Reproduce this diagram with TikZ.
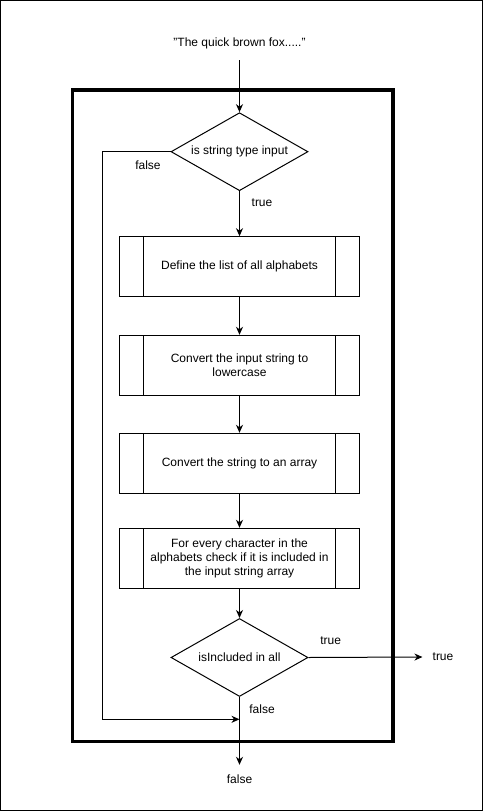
\documentclass[tikz,border=0pt]{standalone}
\usepackage{fontspec}
\setmainfont{Liberation Sans}
\usetikzlibrary{shapes.geometric,arrows.meta}
\begin{document}
\begin{tikzpicture}[x=1pt,y=-1pt,
  every node/.style={font=\fontsize{12}{14}\selectfont},
  line/.style={draw=black,line width=1pt},
  arr/.style={line,-{Stealth[length=8pt,width=7pt,inset=2.5pt]}},
  procbox/.style={draw=black,line width=1pt,rectangle,minimum width=240pt,minimum height=60pt,align=center,inner sep=0pt,
    path picture={
      \draw[line width=1pt] ([xshift=24pt]path picture bounding box.north west) -- ([xshift=24pt]path picture bounding box.south west);
      \draw[line width=1pt] ([xshift=-24pt]path picture bounding box.north east) -- ([xshift=-24pt]path picture bounding box.south east);
    }},
  decision/.style={draw=black,line width=1pt,diamond,aspect=1.75,inner sep=0pt,minimum width=137pt,minimum height=78pt},
  lbl/.style={inner sep=0pt}
]
\useasboundingbox (0,0) rectangle (483,811);
\draw[line width=1pt] (0.5,0.5) rectangle (482.5,810.5);
\draw[line width=3.5pt] (72.5,90) rectangle (392.8,741.7);

\node[lbl,minimum height=34pt] (title) at (239.5,43) {"The quick brown fox....."};
\node[decision] (d1) at (239.5,151.7) {is string type input};
\node[procbox] (b1) at (239.5,266.7) {Define the list of all alphabets};
\node[procbox] (b2) at (239.5,365.3) {Convert the input string to\\lowercase};
\node[procbox] (b3) at (239.5,463.3) {Convert the string to an array};
\node[procbox] (b4) at (239.5,558.3) {For every character in the\\alphabets check if it is included in\\the input string array};
\node[decision] (d2) at (239.5,657.5) {isIncluded in all};
\node[lbl,inner xsep=10pt] (endtrue) at (443,657) {true};
\node[lbl,minimum height=28pt] (endfalse) at (239.5,779) {false};
\coordinate (join) at (239.5,719.3);
\coordinate (leftdown) at (102.3,151.7);
\coordinate (leftup) at (102.3,719.3);

\draw[arr] (title.south) -- (d1.north);
\draw[arr] (d1.south) -- (b1.north);
\draw[arr] (b1.south) -- (b2.north);
\draw[arr] (b2.south) -- (b3.north);
\draw[arr] (b3.south) -- (b4.north);
\draw[arr] (b4.south) -- (d2.north);
\draw[arr] (d2.east) -- (endtrue.west);
\draw[arr] (d2.south) -- (endfalse.north);
\draw[arr] (d1.west) -- (leftdown) -- (leftup) -- (join);

\node[lbl] (lfalse1) at (148,165) {false};
\node[lbl] (ltrue1) at (262,203) {true};
\node[lbl] (ltrue2) at (330.7,640.7) {true};
\node[lbl] (lfalse2) at (262,709.3) {false};
\end{tikzpicture}
\end{document}
